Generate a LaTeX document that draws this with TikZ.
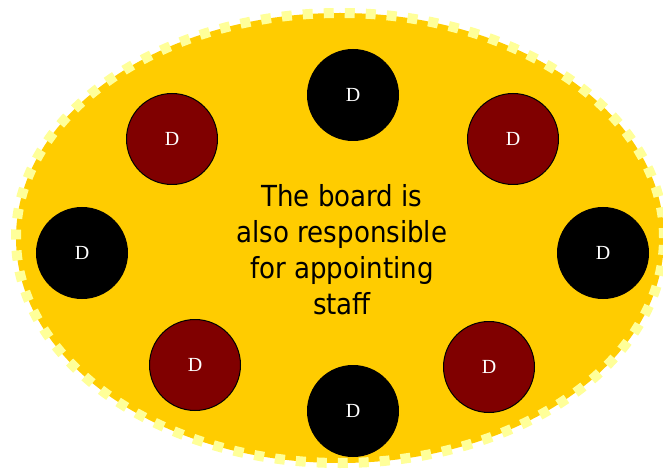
\documentclass[tikz,border=0pt]{standalone}
\usepackage{fontspec}
\usetikzlibrary{shapes.geometric}
\setmainfont{Liberation Serif}
\newfontfamily\labelfont{DejaVu Sans Condensed}
\definecolor{boardfill}{HTML}{FFCC00}
\definecolor{boardedge}{HTML}{FFFF99}
\definecolor{maroon}{HTML}{800000}
\begin{document}
\begin{tikzpicture}[x=1pt,y=-1pt,
  director/.style={circle,draw=black,line width=1pt,minimum size=91pt,inner sep=0pt,text=white,font=\fontsize{20}{20}\selectfont},
  blackdir/.style={director,fill=black},
  browndir/.style={director,fill=maroon},
  boardshape/.style={ellipse,fill=boardfill,draw=boardedge,line width=10pt,dash pattern=on 10pt off 11pt,minimum width=648pt,minimum height=450pt,inner sep=0pt,outer sep=0pt}
]
\useasboundingbox (0,0) rectangle (663,470);
\node[boardshape] (board) at (340,238) {};
\node[align=center,font=\labelfont\fontsize{29}{36}\selectfont] (text) at (342,250) {The board is\\also responsible\\for appointing\\staff};
\node[blackdir] (d1) at (353,95) {D};
\node[browndir] (d2) at (513,139) {D};
\node[blackdir] (d3) at (603,253) {D};
\node[browndir] (d4) at (489,367) {D};
\node[blackdir] (d5) at (353,411) {D};
\node[browndir] (d6) at (195,365) {D};
\node[blackdir] (d7) at (82,253) {D};
\node[browndir] (d8) at (172,139) {D};
\end{tikzpicture}
\end{document}
